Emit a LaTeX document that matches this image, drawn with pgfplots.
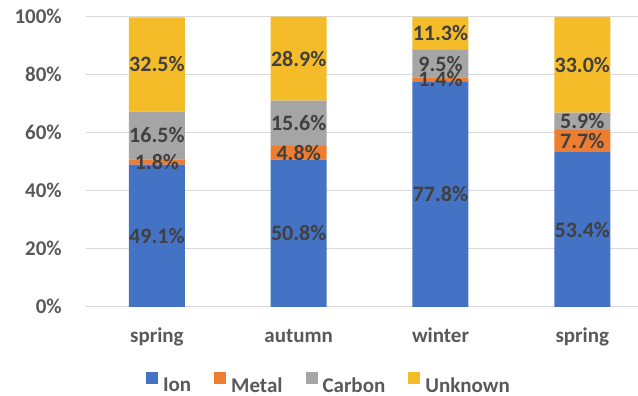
\documentclass[border=0pt]{standalone}
\usepackage{pgfplots}
\pgfplotsset{compat=1.18}
\usepackage{pgfplotstable}
\usepackage{fontspec}
\setmainfont{Carlito}
\definecolor{cIon}{HTML}{4472C4}
\definecolor{cMetal}{HTML}{ED7D31}
\definecolor{cCarbon}{HTML}{A5A5A5}
\definecolor{cUnknown}{HTML}{F5BC2A}
\definecolor{tickgrey}{HTML}{595959}
\definecolor{labelgrey}{HTML}{404040}
\definecolor{gridgrey}{HTML}{D9D9D9}
\pgfplotstableread{
x ion metal carbon unknown
0 49.1 1.8 16.5 32.5
1 50.8 4.8 15.6 28.9
2 77.8 1.4 9.5 11.3
3 53.4 7.7 5.9 33.0
}\datatable
\pgfplotsset{
  common/.style={
    at={(0,0)}, anchor=south west,
    scale only axis, width=552pt, height=290pt,
    xmin=-0.5, xmax=3.393, ymin=0, ymax=100,
  },
  lbl/.style={
    draw=none, mark=none,
    nodes near coords={\pgfmathprintnumber[fixed,precision=1,fixed zerofill,assume math mode=true]{\pgfplotspointmeta}\%},
    point meta=explicit,
    every node near coord/.append style={anchor=center, inner sep=0pt,
      font=\fontsize{22}{22}\selectfont\bfseries, text=labelgrey},
  },
}
\begin{document}
\begin{tikzpicture}
\begin{axis}[common,
  ybar stacked, bar width=0.395,
  xtick={0,1,2,3}, xticklabels={spring,autumn,winter,spring},
  ytick={0,20,40,60,80,100},
  yticklabels={0\%,20\%,40\%,60\%,80\%,100\%},
  axis line style={draw=none}, major tick length=0pt,
  ymajorgrids, grid style={gridgrey, line width=1pt},
  yticklabel style={anchor=base east, inner sep=0pt, xshift=-24pt, yshift=-7pt,
    font=\fontsize{21}{21}\selectfont\bfseries, text=tickgrey},
  xticklabel style={anchor=base, inner sep=0pt, yshift=-36pt,
    font=\fontsize{21}{21}\selectfont\bfseries, text=tickgrey},
  legend columns=4,
  legend image code/.code={\fill[#1, draw=none] (0pt,1pt) rectangle (12pt,13pt);},
  legend style={draw=none, fill=none, inner sep=0pt, outer sep=0pt,
    at={(axis description cs:0.1087,-0.262)}, anchor=west,
    font=\fontsize{21}{21}\selectfont\bfseries, text=tickgrey,
    nodes={inner sep=0pt},
    /tikz/every odd column/.append style={column sep=5pt},
    /tikz/every even column/.append style={column sep=23pt}},
]
\addplot[fill=cIon, draw=none] table[x=x, y=ion] {\datatable};
\addplot[fill=cMetal, draw=none] table[x=x, y=metal] {\datatable};
\addplot[fill=cCarbon, draw=none] table[x=x, y=carbon] {\datatable};
\addplot[fill=cUnknown, draw=none] table[x=x, y=unknown] {\datatable};
\legend{Ion,Metal,Carbon,Unknown}
\end{axis}
\begin{axis}[common, hide axis]
\addplot[lbl] table[x=x, y expr=\thisrow{ion}/2, meta=ion] {\datatable};
\addplot[lbl] table[x=x, y expr=\thisrow{ion}+\thisrow{metal}/2, meta=metal] {\datatable};
\addplot[lbl] table[x=x, y expr=\thisrow{ion}+\thisrow{metal}+\thisrow{carbon}/2, meta=carbon] {\datatable};
\addplot[lbl] table[x=x, y expr=\thisrow{ion}+\thisrow{metal}+\thisrow{carbon}+\thisrow{unknown}/2, meta=unknown] {\datatable};
\end{axis}
\pgfresetboundingbox
\useasboundingbox (-86pt,-89pt) rectangle (552pt,307pt);
\end{tikzpicture}
\end{document}
